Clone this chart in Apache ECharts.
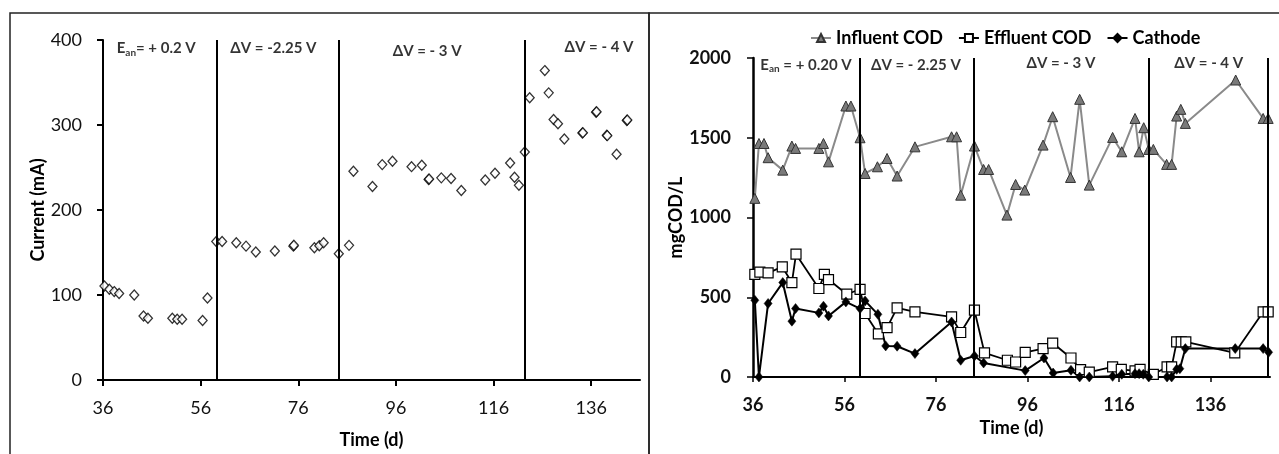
<!DOCTYPE html>
<html>
<head>
<meta charset="utf-8">
<title>Current and COD over time</title>
<script src="https://cdn.jsdelivr.net/npm/echarts@6/dist/echarts.min.js"></script>
<style>
  html, body { margin: 0; padding: 0; background: #fff; }
  #main { width: 1279px; height: 454px; }
</style>
</head>
<body>
<div id="main"></div>
<script>
// tick labels shared by both time axes
var timeTicks = [36, 56, 76, 96, 116, 136];

// left panel: current (mA) vs time (d)
var currentDays = [36.3, 37.3, 38.3, 39.3, 42.4, 44.3, 45.2, 50.2, 51.2, 52.2, 56.4, 57.4,
  59.2, 60.4, 63.3, 65.3, 67.3, 71.2, 75.0, 75.1, 79.3, 80.3, 81.2, 84.3, 86.4,
  87.3, 91.2, 93.2, 95.3, 99.2, 101.3, 102.7, 102.8, 105.3, 107.3, 109.4, 114.3, 116.3,
  119.4, 120.3, 121.2, 122.4, 123.4, 126.5, 127.3, 128.3, 129.2, 130.5, 134.2, 134.3,
  137.0, 137.1, 139.2, 139.3, 141.2, 143.3, 143.4];
var currentMA = [110.6, 106.7, 104, 101.7, 100, 75.4, 72.7, 72.7, 71.5, 71.5, 70, 96.5,
  163, 163, 161.5, 157.5, 150.5, 151.7, 157.5, 158.5, 155.6, 158, 161.5, 148.6, 158.4,
  245.5, 227.6, 253.4, 257.3, 251, 252.6, 235.8, 236.5, 237.8, 237, 222.9, 235.4, 243.2,
  255.4, 238.5, 229.1, 268.3, 332, 364, 337.8, 306.5, 301.5, 283.5, 290.5, 291,
  315, 315.5, 288, 287.5, 265.5, 305.3, 305.8];

// right panel: COD (mg/L) vs time (d)
var influentDays = [36.4, 37.3, 38.4, 39.3, 42.5, 44.5, 45.3, 50.4, 51.4, 52.5, 56.3, 57.4,
  59.4, 60.5, 63.2, 65.3, 67.5, 71.4, 79.4, 80.5, 81.4, 84.4, 86.4, 87.5, 91.5, 93.4,
  95.4, 99.4, 101.5, 105.4, 107.4, 109.5, 114.6, 116.6, 119.5, 120.4, 121.4, 122.5,
  123.5, 126.4, 127.5, 128.6, 129.5, 130.5, 141.5, 147.5, 148.6];
var influentCOD = [1120, 1464, 1464, 1375, 1297, 1448, 1433, 1433, 1464, 1349, 1699, 1699,
  1500, 1276, 1318, 1370, 1260, 1443, 1506, 1506, 1140, 1448, 1301, 1301, 1015, 1207,
  1172, 1454, 1632, 1251, 1741, 1203, 1502, 1412, 1621, 1412, 1563, 1427,
  1427, 1333, 1333, 1636, 1678, 1590, 1862, 1621, 1621];

var effluentDays = [36.4, 37.5, 39.3, 42.4, 44.5, 45.4, 50.4, 51.6, 52.5, 56.5, 59.4, 60.5,
  63.4, 65.3, 67.5, 71.4, 79.4, 81.4, 84.4, 86.6, 91.6, 93.4, 95.5, 99.4, 101.5, 105.5,
  107.6, 109.5, 114.6, 116.5, 119.5, 120.6, 123.5, 126.5, 127.5, 128.6, 129.6, 130.6,
  141.3, 147.5, 148.6];
var effluentCOD = [644, 657, 653, 690, 592, 770, 555, 643, 611, 519, 550, 398,
  270, 310, 433, 408, 377, 279, 419, 151, 105, 94, 155, 178, 213, 119,
  46, 31, 63, 48, 38, 48, 17, 63, 63, 220, 220, 220,
  151, 408, 408];

var cathodeDays = [36.4, 37.3, 39.3, 42.5, 44.5, 45.3, 50.4, 51.4, 52.5, 56.3, 59.4, 60.5,
  63.3, 65.0, 67.5, 71.4, 79.4, 81.4, 84.4, 86.4, 95.5, 99.6, 101.6, 105.5, 107.4,
  109.5, 114.6, 116.6, 119.5, 120.4, 121.3, 122.5, 126.5, 127.5, 128.6, 129.3, 130.5,
  141.4, 147.5, 148.7];
var cathodeCOD = [481, 0, 461, 592, 350, 429, 402, 444, 383, 471, 429, 477,
  393, 195, 193, 147, 345, 105, 132, 88, 40, 119, 25, 42, 0,
  0, 4, 17, 21, 21, 17, 0, 0, 0, 48, 52, 178,
  178, 178, 155];

// phase boundaries (d)
var phaseBoundsLeft = [59.4, 84.3, 122.4];
var phaseBoundsRight = [59.4, 84.3, 122.5, 148.6];

// phase labels
var phaseTextsLeft = ['{t|E}{s|an}{t|= + 0.2 V}', '{t|ΔV = -2.25 V}', '{t|ΔV = - 3 V}', '{t|ΔV = - 4 V}'];
var phaseDaysLeft = [46.9, 70.9, 102.4, 137.6];
var phaseLevelLeft = [390, 390, 387, 392];
var phaseTextsRight = ['{t|E}{s|an}{t| = + 0.20 V}', '{t|ΔV = - 2.25 V}', '{t|ΔV = - 3 V}', '{t|ΔV = - 4 V}'];
var phaseDaysRight = [47.6, 71.6, 103.3, 135.6];
var phaseLevelRight = [1955, 1955, 1965, 1965];

function pairs(xs, ys) {
  return xs.map(function (x, i) { return [x, ys[i]]; });
}
function labelData(xs, ys, texts) {
  return xs.map(function (x, i) { return { value: [x, ys[i]], name: texts[i] }; });
}
function vlines(days) {
  return {
    silent: true,
    symbol: ['none', 'none'],
    label: { show: false },
    lineStyle: { color: '#000', width: 2, type: 'solid' },
    emphasis: { disabled: true },
    data: days.map(function (d) { return { xAxis: d }; })
  };
}
function plain(v) { return String(v); }

var labelRich = {
  t: { fontSize: 15, fontWeight: 'bold', color: '#000', fontFamily: 'Lato' },
  s: { fontSize: 10, fontWeight: 'bold', color: '#000', fontFamily: 'Lato', padding: [8, 0, 0, 0] }
};

var chart = echarts.init(document.getElementById('main'));

var axisText = { color: '#111', fontSize: 18, fontFamily: 'Lato' };

var option = {
  animation: false,
  textStyle: { fontFamily: 'Lato' },
  graphic: [
    { type: 'rect', shape: { x: 10, y: 13, width: 639, height: 500 },
      style: { fill: 'none', stroke: '#222', lineWidth: 1.5 }, silent: true },
    { type: 'rect', shape: { x: 649, y: 13, width: 700, height: 500 },
      style: { fill: 'none', stroke: '#222', lineWidth: 1.5 }, silent: true }
  ],
  legend: {
    data: ['Influent COD', 'Effluent COD', 'Cathode'],
    left: 805,
    top: 24,
    itemWidth: 20,
    itemHeight: 10,
    itemGap: 15,
    textStyle: { fontSize: 18, fontWeight: 'bold', color: '#000', fontFamily: 'Lato' }
  },
  grid: [
    { left: 103, top: 40, width: 537, height: 341 },
    { left: 753, top: 58, width: 517, height: 319 }
  ],
  xAxis: [
    {
      gridIndex: 0, type: 'value', min: 36, max: 146,
      name: 'Time (d)', nameLocation: 'middle', nameGap: 51,
      nameTextStyle: { fontSize: 18, fontWeight: 'bold', color: '#000' },
      axisLine: { show: true, onZero: false, lineStyle: { color: '#000', width: 2 } },
      axisTick: { show: true, length: 6, customValues: timeTicks, lineStyle: { color: '#000', width: 2 } },
      axisLabel: Object.assign({ customValues: timeTicks, margin: 19, formatter: plain }, axisText),
      splitLine: { show: false }
    },
    {
      gridIndex: 1, type: 'value', min: 36, max: 149,
      name: 'Time (d)', nameLocation: 'middle', nameGap: 42,
      nameTextStyle: { fontSize: 18, fontWeight: 'bold', color: '#000' },
      axisLine: { show: true, onZero: false, lineStyle: { color: '#000', width: 2 } },
      axisTick: { show: true, length: 5, customValues: timeTicks, lineStyle: { color: '#000', width: 1.5 } },
      axisLabel: Object.assign({ customValues: timeTicks, margin: 19, fontWeight: 'bold', formatter: plain }, axisText),
      splitLine: { show: false }
    }
  ],
  yAxis: [
    {
      gridIndex: 0, type: 'value', min: 0, max: 400, interval: 100,
      name: 'Current (mA)', nameLocation: 'middle', nameGap: 43,
      nameTextStyle: { fontSize: 18, fontWeight: 'bold', color: '#000' },
      axisLine: { show: true, lineStyle: { color: '#000', width: 2 } },
      axisTick: { show: true, length: 6, lineStyle: { color: '#000', width: 2 } },
      axisLabel: Object.assign({ margin: 21, formatter: plain }, axisText),
      splitLine: { show: false }
    },
    {
      gridIndex: 1, type: 'value', min: 0, max: 2000, interval: 500,
      name: 'mgCOD/L', nameLocation: 'middle', nameGap: 68,
      nameTextStyle: { fontSize: 18, fontWeight: 'bold', color: '#000' },
      axisLine: { show: true, lineStyle: { color: '#000', width: 2.5 } },
      axisTick: { show: true, length: 6, lineStyle: { color: '#000', width: 1.5 } },
      axisLabel: Object.assign({ margin: 22, fontWeight: 'bold', formatter: plain }, axisText),
      splitLine: { show: false }
    }
  ],
  series: [
    {
      name: 'Current', type: 'scatter', xAxisIndex: 0, yAxisIndex: 0,
      data: pairs(currentDays, currentMA),
      symbol: 'diamond', symbolSize: [9, 10],
      itemStyle: { color: '#fff', borderColor: '#000', borderWidth: 1.3 },
      markLine: vlines(phaseBoundsLeft)
    },
    {
      name: 'Influent COD', type: 'line', xAxisIndex: 1, yAxisIndex: 1,
      data: pairs(influentDays, influentCOD),
      symbol: 'triangle', symbolSize: 10, showAllSymbol: true,
      lineStyle: { color: '#8a8a8a', width: 2 },
      itemStyle: { color: '#7a7a7a', borderColor: '#333', borderWidth: 1 },
      markLine: vlines(phaseBoundsRight)
    },
    {
      name: 'Effluent COD', type: 'line', xAxisIndex: 1, yAxisIndex: 1,
      data: pairs(effluentDays, effluentCOD),
      symbol: 'rect', symbolSize: 10, showAllSymbol: true,
      lineStyle: { color: '#000', width: 1.8 },
      itemStyle: { color: '#fff', borderColor: '#000', borderWidth: 1.2 }
    },
    {
      name: 'Cathode', type: 'line', xAxisIndex: 1, yAxisIndex: 1,
      data: pairs(cathodeDays, cathodeCOD),
      symbol: 'diamond', symbolSize: [8, 10], showAllSymbol: true,
      lineStyle: { color: '#000', width: 2 },
      itemStyle: { color: '#000', borderColor: '#000', borderWidth: 0.5 }
    },
    {
      name: 'phaseLeft', type: 'scatter', xAxisIndex: 0, yAxisIndex: 0, silent: true,
      symbolSize: 0, data: labelData(phaseDaysLeft, phaseLevelLeft, phaseTextsLeft),
      label: { show: true, position: 'inside', formatter: function (p) { return p.name; }, rich: labelRich }
    },
    {
      name: 'phaseRight', type: 'scatter', xAxisIndex: 1, yAxisIndex: 1, silent: true,
      symbolSize: 0, data: labelData(phaseDaysRight, phaseLevelRight, phaseTextsRight),
      label: { show: true, position: 'inside', formatter: function (p) { return p.name; }, rich: labelRich }
    }
  ]
};

chart.setOption(option);
</script>
</body>
</html>
